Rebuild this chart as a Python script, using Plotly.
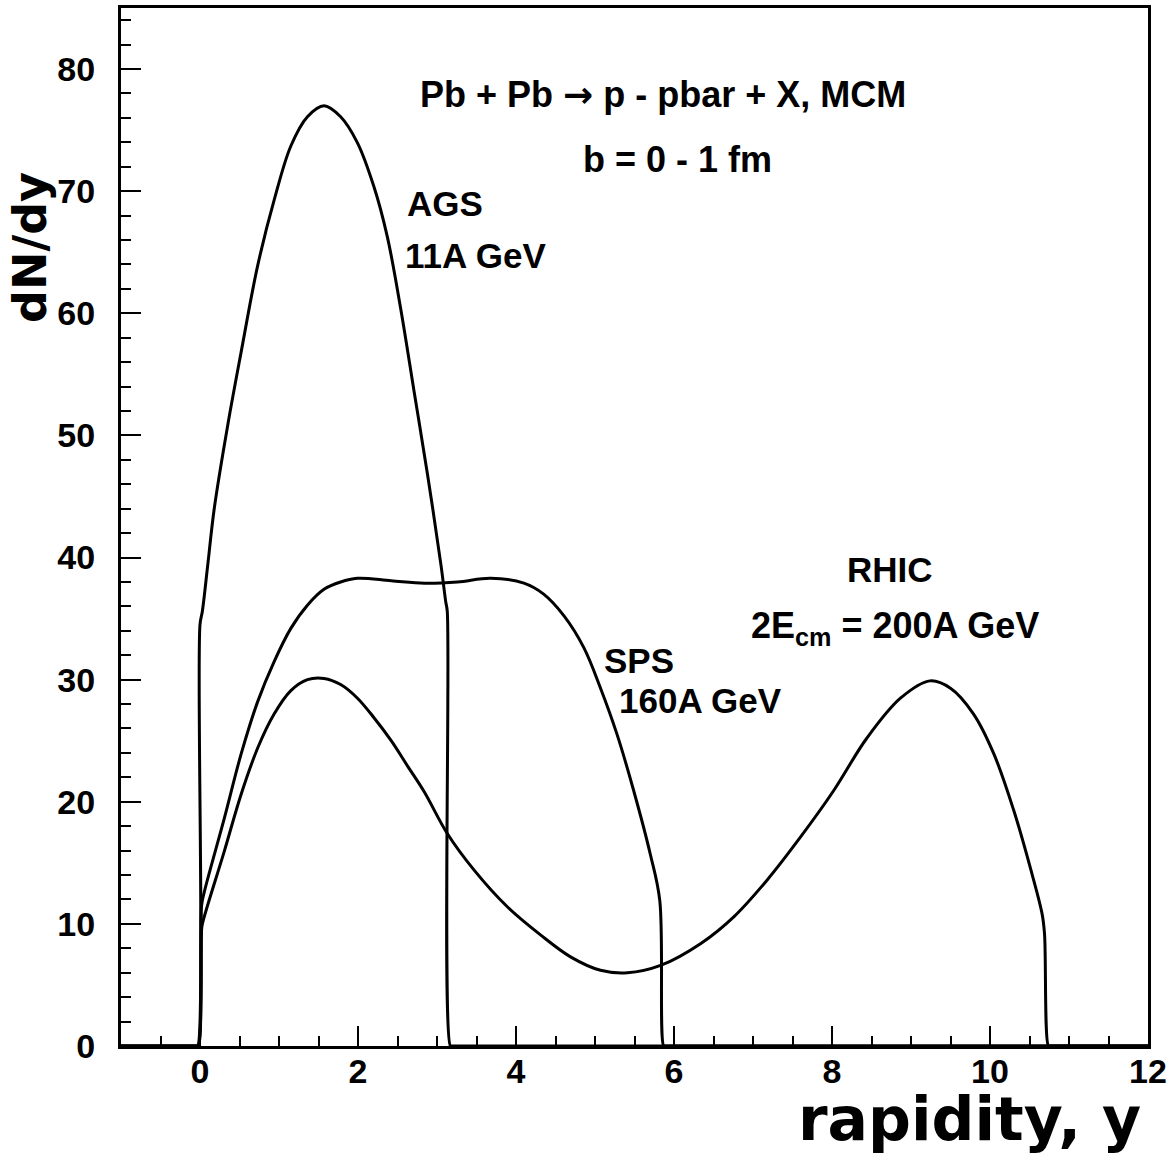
import plotly.graph_objects as go

# ---- data ----
ags_x = [-1, -0.05, -0.03, 0.0, 0.03, 0.10, 0.18, 0.35, 0.52, 0.73, 0.94, 1.15, 1.36, 1.57, 1.78, 1.99,
         2.20, 2.37, 2.54, 2.71, 2.88, 3.05, 3.11, 3.13, 3.17, 3.19, 12]
ags_y = [0, 0, 0, 34.5, 35.6, 39.5, 44.0, 50.8, 56.8, 63.9, 69.3, 73.7, 76.1, 77.0, 76.1, 74.0,
         70.4, 66.3, 60.4, 53.6, 46.8, 39.4, 36.4, 35.6, 0, 0, 0]

sps_x = [-1, -0.04, -0.02, 0.02, 0.05, 0.31, 0.52, 0.73, 0.94, 1.15, 1.36, 1.57, 1.78, 1.99, 2.42, 2.84,
         3.26, 3.68, 4.10, 4.35, 4.61, 4.86, 5.07, 5.28, 5.49, 5.70, 5.82, 5.87, 5.89, 12]
sps_y = [0, 0, 0, 11.5, 12.5, 18.7, 23.9, 28.2, 31.5, 34.2, 36.1, 37.4, 38.0, 38.3, 38.1, 37.9,
         38.0, 38.3, 37.9, 37.0, 35.2, 32.6, 29.3, 25.5, 20.9, 15.7, 11.9, 0, 0, 0]

rhic_x = [-1, -0.04, -0.02, 0.02, 0.03, 0.31, 0.52, 0.73, 0.94, 1.15, 1.36, 1.57, 1.78, 1.99, 2.20, 2.42,
          2.63, 2.84, 3.13, 3.47, 3.89, 4.31, 4.69, 5.07, 5.41, 5.83, 6.34, 6.76, 7.18, 7.60,
          8.02, 8.44, 8.87, 9.24, 9.50, 9.79, 10.05, 10.30, 10.51, 10.66, 10.69, 10.74, 10.76, 12]
rhic_y = [0, 0, 0, 9.5, 10.0, 16.0, 20.6, 24.4, 27.2, 29.1, 30.0, 30.1, 29.6, 28.5, 26.9, 25.0,
          22.9, 20.8, 17.4, 14.4, 11.4, 9.1, 7.3, 6.2, 6.0, 6.6, 8.4, 10.6, 13.6, 17.1,
          20.9, 25.2, 28.5, 29.9, 29.3, 27.2, 23.9, 19.3, 14.6, 10.8, 9.2, 0, 0, 0]

x_ticks = [0, 2, 4, 6, 8, 10, 12]
y_ticks = [0, 10, 20, 30, 40, 50, 60, 70, 80]

FONT = "Liberation Sans, Arial, Helvetica, sans-serif"
WIDE = "DejaVu Sans, Liberation Sans, sans-serif"

fig = go.Figure()
for xs, ys, name in [(ags_x, ags_y, "AGS"), (sps_x, sps_y, "SPS"), (rhic_x, rhic_y, "RHIC")]:
    fig.add_trace(go.Scatter(x=xs, y=ys, mode="lines", name=name,
                             line=dict(color="black", width=3, shape="spline", smoothing=1.0),
                             showlegend=False))

axis_common = dict(
    showgrid=False, zeroline=False, showline=True, linecolor="black", linewidth=3,
    mirror=True, ticks="inside", tickcolor="black", tickwidth=2, ticklen=20,
    tickfont=dict(family=FONT, size=34, color="black", weight="bold"),
)

fig.update_xaxes(range=[-1, 12], tickvals=x_ticks, ticktext=[str(v) for v in x_ticks],
                 minor=dict(ticks="inside", ticklen=10, tickwidth=2, tickcolor="black", dtick=0.5, tick0=0),
                 ticklabelstandoff=-7, **axis_common)
fig.update_yaxes(range=[0, 85], tickvals=y_ticks, ticktext=[str(v) for v in y_ticks],
                 minor=dict(ticks="inside", ticklen=10, tickwidth=2, tickcolor="black", dtick=2, tick0=0),
                 ticklabelstandoff=16, **axis_common)

def txt(x, y, s, size=35, xanchor="left"):
    fig.add_annotation(x=x, y=y, xref="x", yref="y", text=s, showarrow=False,
                       xanchor=xanchor, yanchor="middle",
                       font=dict(family=FONT, size=size, color="black", weight="bold"))

txt(5.86, 77.9, "Pb + Pb <span style=\"font-family:DejaVu Sans\">\u2192</span> p - pbar + X, MCM",
    size=36, xanchor="center")
txt(6.05, 72.6, "b = 0 - 1 fm", size=36, xanchor="center")
txt(2.6, 69.0, "AGS")
txt(2.57, 64.7, "11A GeV")
txt(8.73, 39.0, "RHIC", xanchor="center")
txt(8.8, 34.2, "2E<sub>cm</sub> = 200A GeV", size=36, xanchor="center")
txt(5.09, 31.6, "SPS")
txt(5.28, 28.3, "160A GeV")

W, H = 1174, 1157
L, R, T, B = 121, 26, 5, 111

def px2paper(px, py):
    return (px - L) / (W - L - R), 1 - (py - T) / (H - T - B)

# axis titles (placed in pixels)
ax_, ay_ = px2paper(1143, 1156)
fig.add_annotation(x=ax_, y=ay_, xref="paper", yref="paper", text="rapidity, y",
                   showarrow=False, xanchor="right", yanchor="bottom",
                   font=dict(family=WIDE, size=60, color="black", weight="bold"))
bx_, by_ = px2paper(30, 168)
fig.add_annotation(x=bx_, y=by_, xref="paper", yref="paper", text="dN/dy",
                   showarrow=False, xanchor="center", yanchor="top", textangle=-90,
                   font=dict(family=WIDE, size=46, color="black", weight="bold"))

fig.update_layout(
    width=W, height=H,
    margin=dict(l=L, r=R, t=T, b=B),
    paper_bgcolor="white", plot_bgcolor="white",
    font=dict(family=FONT, color="black"),
)
fig.write_html("out.html", config={"displayModeBar": False},
               post_script="document.body.style.margin='0';document.body.style.padding='0';")
